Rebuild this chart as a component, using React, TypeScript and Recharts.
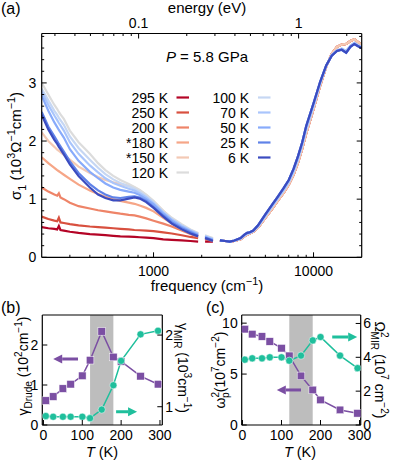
import React from "react";
import {
  ComposedChart,
  Line,
  LineChart,
  ReferenceArea,
  ReferenceLine,
  XAxis,
  YAxis,
} from "recharts";

const FONT = "'Liberation Sans', Arial, Helvetica, sans-serif";
const W = 399;
const H = 461;
const CM_PER_EV = 8065.54;

// (a) sigma_1 (10^3 / Ohm cm) at 5.8 GPa
const FREQ_LOW = [200, 220, 240, 250, 256, 262, 275, 300, 340, 400, 450, 500, 560, 620, 700, 760, 820, 900, 1000, 1150, 1300, 1500, 1700, 1900, 2000, 2100, 2250, 2350, 2450];
const S295 = [0.52, 0.5, 0.49, 0.48, 0.54, 0.47, 0.46, 0.44, 0.42, 0.4, 0.39, 0.38, 0.37, 0.36, 0.355, 0.35, 0.345, 0.34, 0.33, 0.31, 0.3, 0.29, 0.28, 0.27, null, 0.27, 0.27, 0.27, null];
const S250 = [0.7, 0.66, 0.63, 0.62, 0.68, 0.6, 0.59, 0.57, 0.55, 0.53, 0.52, 0.51, 0.5, 0.49, 0.48, 0.47, 0.465, 0.46, 0.45, 0.43, 0.41, 0.38, 0.35, 0.33, null, 0.31, 0.29, 0.28, null];
const S200 = [1.2, 1.13, 1.08, 1.06, 1.1, 1.03, 1.0, 0.94, 0.88, 0.84, 0.81, 0.79, 0.77, 0.75, 0.73, 0.72, 0.7, 0.67, 0.63, 0.58, 0.53, 0.46, 0.4, 0.35, null, 0.32, 0.3, 0.28, null];
const S180 = [1.72, 1.62, 1.54, 1.5, 1.48, 1.46, 1.42, 1.35, 1.25, 1.15, 1.09, 1.04, 1.0, 0.97, 0.94, 0.92, 0.89, 0.85, 0.79, 0.68, 0.58, 0.48, 0.42, 0.37, null, 0.34, 0.31, 0.29, null];
const S150 = [2.15, 2.0, 1.9, 1.85, 1.83, 1.81, 1.76, 1.68, 1.56, 1.45, 1.38, 1.33, 1.29, 1.26, 1.23, 1.2, 1.15, 1.07, 0.96, 0.8, 0.67, 0.55, 0.47, 0.41, null, 0.37, 0.34, 0.32, null];
const S120 = [3.0, 2.8, 2.62, 2.55, 2.5, 2.46, 2.38, 2.18, 1.98, 1.78, 1.62, 1.5, 1.4, 1.33, 1.26, 1.21, 1.16, 1.08, 0.97, 0.8, 0.68, 0.57, 0.48, 0.42, null, 0.38, 0.35, 0.33, null];
const S100 = [2.9, 2.7, 2.52, 2.45, 2.4, 2.36, 2.28, 2.08, 1.88, 1.68, 1.54, 1.43, 1.34, 1.28, 1.22, 1.18, 1.13, 1.05, 0.95, 0.78, 0.66, 0.55, 0.47, 0.41, null, 0.37, 0.34, 0.32, null];
const S70 = [2.85, 2.62, 2.44, 2.36, 2.31, 2.27, 2.18, 1.98, 1.78, 1.58, 1.46, 1.36, 1.28, 1.23, 1.18, 1.15, 1.1, 1.03, 0.93, 0.77, 0.65, 0.54, 0.46, 0.4, null, 0.36, 0.33, 0.31, null];
const S50 = [2.78, 2.52, 2.32, 2.24, 2.19, 2.15, 2.06, 1.86, 1.66, 1.47, 1.36, 1.27, 1.2, 1.16, 1.13, 1.11, 1.07, 1.0, 0.91, 0.75, 0.63, 0.52, 0.45, 0.39, null, 0.35, 0.32, 0.3, null];
const S25 = [2.5, 2.25, 2.08, 2.0, 1.95, 1.91, 1.82, 1.65, 1.45, 1.26, 1.15, 1.08, 1.03, 1.02, 1.04, 1.05, 1.03, 0.97, 0.87, 0.72, 0.6, 0.5, 0.43, 0.37, null, 0.34, 0.31, 0.29, null];
const S6 = [2.45, 2.2, 2.02, 1.95, 1.9, 1.86, 1.77, 1.6, 1.4, 1.2, 1.08, 1.02, 0.98, 0.98, 1.01, 1.03, 1.01, 0.95, 0.85, 0.7, 0.58, 0.48, 0.41, 0.36, null, 0.33, 0.3, 0.28, null];

// above ~2600 cm-1 the curves fall on top of each other
const FREQ_HIGH = [2600, 2800, 3000, 3200, 3500, 3700, 3850, 4000, 4200, 4500, 5000, 5500, 6000, 6500, 7000, 7500, 8000, 8500, 9000, 10000, 11000, 12000, 13000, 14000, 15000, 16000, 17000, 18000, 19000, 20000];
const HIGH_WARM = [0.29, 0.28, 0.27, 0.28, 0.31, 0.36, 0.39, 0.41, 0.44, 0.51, 0.68, 0.83, 0.98, 1.11, 1.25, 1.42, 1.63, 1.87, 2.13, 2.55, 2.95, 3.28, 3.5, 3.62, 3.66, 3.67, 3.72, 3.75, 3.7, 3.66];
const HIGH_COOL = [0.29, 0.28, 0.27, 0.285, 0.32, 0.375, 0.405, 0.42, 0.45, 0.53, 0.71, 0.87, 1.02, 1.15, 1.29, 1.47, 1.69, 1.93, 2.2, 2.6, 2.99, 3.29, 3.48, 3.56, 3.59, 3.55, 3.64, 3.69, 3.65, 3.62];
const HIGH_COLD = [0.29, 0.28, 0.27, 0.29, 0.33, 0.39, 0.42, 0.43, 0.46, 0.55, 0.74, 0.9, 1.05, 1.19, 1.33, 1.52, 1.74, 1.98, 2.26, 2.65, 3.02, 3.3, 3.47, 3.55, 3.57, 3.52, 3.62, 3.67, 3.63, 3.6];

const TEMP_LABELS = ["295 K", "250 K", "200 K", "*180 K", "*150 K", "120 K", "100 K", "70 K", "50 K", "25 K", "6 K"];
const TEMP_COLORS = ["#b40426", "#d8503f", "#ee8468", "#f6a687", "#f3c9b4", "#dcdcdc", "#c6d7f3", "#a9c5fc", "#88abfb", "#5f82e8", "#3b4cc0"];
const LOW_SERIES = [S295, S250, S200, S180, S150, S120, S100, S70, S50, S25, S6];
const HIGH_SERIES = [HIGH_WARM, HIGH_WARM, HIGH_WARM, HIGH_WARM, HIGH_WARM, HIGH_COOL, HIGH_COOL, HIGH_COOL, HIGH_COLD, HIGH_COLD, HIGH_COLD];

const FREQ_TICKS = [300, 400, 500, 600, 700, 800, 900, 1000, 2000, 3000, 4000, 5000, 6000, 7000, 8000, 9000, 10000];
const EV_TICKS = [0.03, 0.04, 0.05, 0.06, 0.07, 0.08, 0.09, 0.1, 0.2, 0.3, 0.4, 0.5, 0.6, 0.7, 0.8, 0.9, 1, 2];
const SIGMA_TICKS = [0, 0.2, 0.4, 0.6, 0.8, 1, 1.2, 1.4, 1.6, 1.8, 2, 2.2, 2.4, 2.6, 2.8, 3, 3.2, 3.4, 3.6, 3.8];

// (b), (c) fit parameters vs temperature
const T_LIST = [6, 25, 50, 70, 100, 120, 150, 180, 200, 250, 295];
const GAMMA_DRUDE = [0.61, 0.71, 0.91, 1.02, 1.23, 1.62, 2.34, 1.7, 1.59, 1.22, 1.02];
const GAMMA_MIR = [0.87, 0.86, 0.86, 0.86, 0.86, 0.84, 0.96, 1.3, 1.64, 2.01, 2.06];
const WP2 = [9.41, 8.92, 8.69, 8.2, 7.54, 6.79, 4.82, 3.44, 2.46, 1.48, 1.15];
const OMEGA_MIR2 = [3.86, 3.94, 3.94, 4.0, 4.0, 3.8, 4.1, 5.0, 5.2, 4.1, 3.36];
const BAND = [120, 180];

const PURPLE = "#7b4fa3";
const TEAL = "#1fbf9c";

function spectrumRow(f: number, vals: (number | null)[]) {
  const r: Record<string, number | null> = { f, ev: f / CM_PER_EV };
  vals.forEach((v, k) => (r[`s${k}`] = v));
  return r;
}

const spectra = [
  ...FREQ_LOW.map((f, i) => spectrumRow(f, LOW_SERIES.map((s) => s[i]))),
  ...FREQ_HIGH.map((f, i) => spectrumRow(f, HIGH_SERIES.map((s) => s[i]))),
];

const bRows = T_LIST.map((T, i) => ({ T, gD: GAMMA_DRUDE[i], gM: GAMMA_MIR[i] }));
const cRows = T_LIST.map((T, i) => ({ T, wp: WP2[i], om: OMEGA_MIR2[i] }));

type Rect = { left: number; right: number; top: number; bottom: number };
const RA: Rect = { left: 41.7, right: 361.7, top: 33.5, bottom: 257.3 };
const RB: Rect = { left: 42.3, right: 162.3, top: 315, bottom: 425 };
const RC: Rect = { left: 241.7, right: 360.7, top: 315, bottom: 425 };
// every chart has four 1px axes, so take them off the margins
const marginOf = (r: Rect) => ({ top: r.top - 1, left: r.left - 1, right: W - r.right - 1, bottom: H - r.bottom - 1 });

type Side = "bottom" | "top" | "left" | "right";
function tickRenderer(side: Side, isMajor: (v: number) => boolean, label: (v: number) => string, gap: number) {
  return (p: any) => {
    const v = p.payload.value;
    const major = isMajor(v);
    const len = major ? 5 : 2.5;
    const t = major ? label(v) : "";
    const { x, y } = p;
    let l = [x, y, x, y];
    let tx = x;
    let ty = y;
    let anchor: "middle" | "end" | "start" = "middle";
    if (side === "bottom") {
      l = [x, y, x, y - len];
      ty = y + gap;
    } else if (side === "top") {
      l = [x, y, x, y + len];
      ty = y - gap;
    } else if (side === "left") {
      l = [x, y, x + len, y];
      tx = x - gap;
      ty = y + 5;
      anchor = "end";
    } else {
      l = [x, y, x - len, y];
      tx = x + gap;
      ty = y + 5;
      anchor = "start";
    }
    return (
      <g>
        <line x1={l[0]} y1={l[1]} x2={l[2]} y2={l[3]} stroke="#000" strokeWidth={1} />
        {t && (
          <text x={tx} y={ty} textAnchor={anchor} fontSize={14} fontFamily={FONT} fill="#000">
            {t}
          </text>
        )}
      </g>
    );
  };
}

const axisBase = {
  tickSize: 0,
  tickMargin: 0,
  tickLine: false,
  interval: 0 as const,
  allowDataOverflow: true,
  axisLine: { stroke: "#000", strokeWidth: 1.2 },
};
const noTick = () => <g />;

function arrowShape(color: string) {
  return (p: any) => {
    const { x1, y1, x2, y2 } = p;
    const dx = x2 - x1;
    const dy = y2 - y1;
    const L = Math.hypot(dx, dy) || 1;
    const ux = dx / L;
    const uy = dy / L;
    const hl = 9;
    const hw = 4.5;
    const bx = x2 - ux * hl;
    const by = y2 - uy * hl;
    return (
      <g>
        <line x1={x1} y1={y1} x2={bx} y2={by} stroke={color} strokeWidth={3} />
        <polygon points={`${x2},${y2} ${bx - uy * hw},${by + ux * hw} ${bx + uy * hw},${by - ux * hw}`} fill={color} />
      </g>
    );
  };
}

const squareDot = (color: string) => (p: any) => (
  <rect key={`sq-${p.index}`} x={p.cx - 3.8} y={p.cy - 3.8} width={7.6} height={7.6} fill={color} stroke="#fff" strokeWidth={0.5} />
);
const circleDot = (color: string) => (p: any) => (
  <circle key={`ci-${p.index}`} cx={p.cx} cy={p.cy} r={3.6} fill={color} stroke="#fff" strokeWidth={0.5} />
);

type Part = [string, "n" | "sup" | "sub" | "it", number?];
function Rich({ parts, fs }: { parts: Part[]; fs: number }) {
  let shift = 0;
  return (
    <>
      {parts.map(([t, k, dx], i) => {
        const target = k === "sup" ? -0.42 * fs : k === "sub" ? 0.3 * fs : 0;
        const dy = target - shift;
        shift = target;
        const small = k === "sup" || k === "sub";
        return (
          <tspan key={i} dy={dy} dx={dx ?? 0} fontSize={small ? fs * 0.72 : fs} fontStyle={k === "it" ? "italic" : "normal"}>
            {t}
          </tspan>
        );
      })}
    </>
  );
}

function VLabel({ x, y, rot, parts, fs = 14 }: { x: number; y: number; rot: number; parts: Part[]; fs?: number }) {
  return (
    <text transform={`translate(${x},${y}) rotate(${rot})`} textAnchor="middle" fontFamily={FONT} fill="#000">
      <Rich parts={parts} fs={fs} />
    </text>
  );
}

const abs: React.CSSProperties = { position: "absolute", left: 0, top: 0 };

export default function App() {
  const isInt = (v: number) => Math.abs(v - Math.round(v)) < 1e-6;
  return (
    <div style={{ position: "fixed", left: 0, top: 0, width: W, height: H, background: "#fff", fontFamily: FONT }}>
      {/* (a) optical conductivity; warm curves use the cm-1 / left axes, cold ones the eV / right axes (same mapping) */}
      <LineChart width={W} height={H} data={spectra} margin={marginOf(RA)} style={abs}>
        <XAxis
          {...axisBase}
          xAxisId="f"
          dataKey="f"
          type="number"
          scale="log"
          domain={[200, 20000]}
          ticks={FREQ_TICKS}
          height={1}
          tick={tickRenderer("bottom", (v) => v === 1000 || v === 10000, (v) => String(v), 18.5)}
        />
        <XAxis
          {...axisBase}
          xAxisId="e"
          dataKey="ev"
          orientation="top"
          type="number"
          scale="log"
          domain={[200 / CM_PER_EV, 20000 / CM_PER_EV]}
          ticks={EV_TICKS}
          height={1}
          tick={tickRenderer("top", (v) => v === 0.1 || v === 1, (v) => String(v), 5.5)}
        />
        <YAxis
          {...axisBase}
          yAxisId="l"
          type="number"
          domain={[0, 3.85]}
          ticks={SIGMA_TICKS}
          width={1}
          tick={tickRenderer("left", isInt, (v) => String(Math.round(v)), 5.5)}
        />
        <YAxis
          {...axisBase}
          yAxisId="r"
          orientation="right"
          type="number"
          domain={[0, 3.85]}
          ticks={SIGMA_TICKS}
          width={1}
          tick={tickRenderer("right", isInt, () => "", 3)}
        />
        {TEMP_LABELS.map((t, k) => (
          <Line
            key={t}
            xAxisId={k < 6 ? "f" : "e"}
            yAxisId={k < 6 ? "l" : "r"}
            dataKey={`s${k}`}
            stroke={TEMP_COLORS[k]}
            strokeWidth={2.2}
            dot={false}
            type="linear"
            connectNulls={false}
            isAnimationActive={false}
          />
        ))}
      </LineChart>

      {/* (b) scattering rates */}
      <ComposedChart width={W} height={H} data={bRows} margin={marginOf(RB)} style={abs}>
        <XAxis
          {...axisBase}
          xAxisId="t"
          dataKey="T"
          type="number"
          domain={[-3, 306]}
          ticks={[0, 100, 200, 300]}
          height={1}
          tick={tickRenderer("bottom", () => true, (v) => String(v), 15)}
        />
        <XAxis {...axisBase} xAxisId="top" orientation="top" type="number" domain={[-3, 306]} ticks={[0, 300]} height={1} tick={noTick} />
        <YAxis
          {...axisBase}
          yAxisId="l"
          type="number"
          domain={[0, 2.75]}
          ticks={[0, 1, 2]}
          width={1}
          tick={tickRenderer("left", () => true, (v) => String(v), 4)}
        />
        <YAxis
          {...axisBase}
          yAxisId="r"
          orientation="right"
          type="number"
          domain={[0.745, 2.28]}
          ticks={[1, 2]}
          width={1}
          tick={tickRenderer("right", () => true, (v) => String(v), 3)}
        />
        <ReferenceArea xAxisId="t" yAxisId="l" x1={BAND[0]} x2={BAND[1]} fill="#bdbdbd" fillOpacity={1} stroke="none" />
        <Line xAxisId="t" yAxisId="l" dataKey="gD" stroke={PURPLE} strokeWidth={1.5} dot={squareDot(PURPLE)} isAnimationActive={false} />
        <Line xAxisId="t" yAxisId="r" dataKey="gM" stroke={TEAL} strokeWidth={1.5} dot={circleDot(TEAL)} isAnimationActive={false} />
        <ReferenceLine xAxisId="t" yAxisId="l" segment={[{ x: 89, y: 1.65 }, { x: 25, y: 1.65 }]} ifOverflow="visible" shape={arrowShape(PURPLE)} />
        <ReferenceLine xAxisId="t" yAxisId="r" segment={[{ x: 187, y: 0.93 }, { x: 241, y: 0.93 }]} ifOverflow="visible" shape={arrowShape(TEAL)} />
      </ComposedChart>

      {/* (c) spectral weights */}
      <ComposedChart width={W} height={H} data={cRows} margin={marginOf(RC)} style={abs}>
        <XAxis
          {...axisBase}
          xAxisId="t"
          dataKey="T"
          type="number"
          domain={[-2, 303]}
          ticks={[0, 100, 200, 300]}
          height={1}
          tick={tickRenderer("bottom", () => true, (v) => String(v), 15)}
        />
        <XAxis {...axisBase} xAxisId="top" orientation="top" type="number" domain={[-2, 303]} ticks={[0, 300]} height={1} tick={noTick} />
        <YAxis
          {...axisBase}
          yAxisId="l"
          type="number"
          domain={[0, 10.8]}
          ticks={[0, 5, 10]}
          width={1}
          tick={tickRenderer("left", () => true, (v) => String(v), 4)}
        />
        <YAxis
          {...axisBase}
          yAxisId="r"
          orientation="right"
          type="number"
          domain={[0, 6.5]}
          ticks={[0, 2, 4, 6]}
          width={1}
          tick={tickRenderer("right", () => true, (v) => String(v), 2.5)}
        />
        <ReferenceArea xAxisId="t" yAxisId="l" x1={BAND[0]} x2={BAND[1]} fill="#bdbdbd" fillOpacity={1} stroke="none" />
        <Line xAxisId="t" yAxisId="l" dataKey="wp" stroke={PURPLE} strokeWidth={1.5} dot={squareDot(PURPLE)} isAnimationActive={false} />
        <Line xAxisId="t" yAxisId="r" dataKey="om" stroke={TEAL} strokeWidth={1.5} dot={circleDot(TEAL)} isAnimationActive={false} />
        <ReferenceLine xAxisId="t" yAxisId="r" segment={[{ x: 230, y: 5.2 }, { x: 294, y: 5.2 }]} ifOverflow="visible" shape={arrowShape(TEAL)} />
        <ReferenceLine xAxisId="t" yAxisId="l" segment={[{ x: 150, y: 3.44 }, { x: 88, y: 3.44 }]} ifOverflow="visible" shape={arrowShape(PURPLE)} />
      </ComposedChart>

      {/* titles, axis labels, legend */}
      <svg width={W} height={H} style={{ ...abs, pointerEvents: "none" }}>
        <g fontFamily={FONT} fill="#000">
          <text x={1} y={14} fontSize={16}>(a)</text>
          <text x={207} y={13} fontSize={15} textAnchor="middle">energy (eV)</text>
          <text x={207} y={291} fontSize={15} textAnchor="middle">
            <Rich fs={15} parts={[["frequency (cm", "n"], ["−1", "sup"], [")", "n"]]} />
          </text>
          <text x={207} y={62} fontSize={15} textAnchor="middle">
            <tspan fontStyle="italic">P</tspan> = 5.8 GPa
          </text>
          <text x={1} y={313} fontSize={16}>(b)</text>
          <text x={206} y={313} fontSize={16}>(c)</text>
          <text x={102} y={457} fontSize={14.5} textAnchor="middle">
            <tspan fontStyle="italic">T</tspan> (K)
          </text>
          <text x={300} y={457} fontSize={14.5} textAnchor="middle">
            <tspan fontStyle="italic">T</tspan> (K)
          </text>
        </g>
        <VLabel
          x={21}
          y={146}
          rot={-90}
          fs={15}
          parts={[["σ", "n"], ["1", "sub"], [" (10", "n"], ["3", "sup"], ["Ω", "n"], ["−1", "sup"], ["cm", "n"], ["−1", "sup"], [")", "n"]]}
        />
        <VLabel x={28} y={366} rot={-90} parts={[["γ", "n"], ["Drude", "sub"], [" (10", "n"], ["2", "sup"], ["cm", "n"], ["−1", "sup"], [")", "n"]]} />
        <VLabel x={178} y={368} rot={90} parts={[["γ", "n"], ["MIR", "sub"], [" (10", "n"], ["3", "sup"], ["cm", "n"], ["−1", "sup"], [")", "n"]]} />
        <VLabel x={225} y={370} rot={-90} parts={[["ω", "n"], ["2", "sup"], ["p", "sub", -6], ["(10", "n"], ["7", "sup"], ["cm", "n"], ["−2", "sup"], [")", "n"]]} />
        <VLabel x={375} y={370} rot={90} parts={[["Ω", "n"], ["2", "sup"], ["MIR", "sub", -6], [" (10", "n"], ["7", "sup"], [" cm", "n"], ["−2", "sup"], [")", "n"]]} />
        {TEMP_LABELS.map((t, k) => {
          const col = k < 6 ? 0 : 1;
          const rowY = 97.5 + (k - col * 6) * 15;
          const xe = col === 0 ? 168 : 249;
          const x0 = col === 0 ? 176.5 : 258;
          return (
            <g key={t}>
              <text x={xe} y={rowY + 5} textAnchor="end" fontSize={14} fontFamily={FONT} fill="#000">
                {t}
              </text>
              <line x1={x0} x2={x0 + 12.5} y1={rowY} y2={rowY} stroke={TEMP_COLORS[k]} strokeWidth={2.2} />
            </g>
          );
        })}
      </svg>
    </div>
  );
}
